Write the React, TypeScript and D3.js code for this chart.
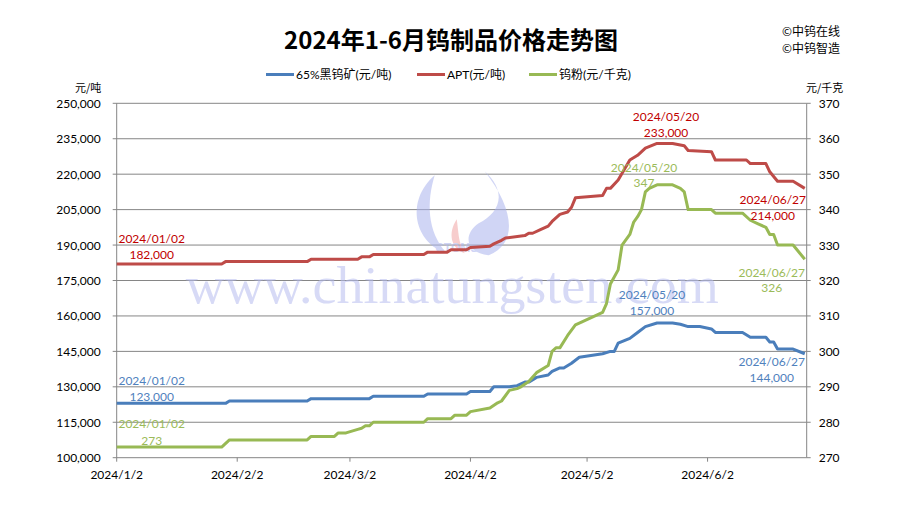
import React from 'react';
import * as d3 from 'd3';

// 65%黑钨矿 (元/吨)
const oreSeries: [string, number][] = [
  ['2024-01-02', 123000], ['2024-01-30', 123000], ['2024-01-31', 124000], ['2024-02-20', 124000],
  ['2024-02-21', 125000], ['2024-03-07', 125000], ['2024-03-08', 126000], ['2024-03-21', 126000],
  ['2024-03-22', 127000], ['2024-04-01', 127000], ['2024-04-02', 128000], ['2024-04-07', 128000],
  ['2024-04-08', 130000], ['2024-04-12', 130000], ['2024-04-14', 130500], ['2024-04-16', 132000],
  ['2024-04-17', 132000], ['2024-04-19', 134000], ['2024-04-22', 135000], ['2024-04-23', 136500],
  ['2024-04-25', 138000], ['2024-04-26', 138000], ['2024-04-28', 140000], ['2024-04-30', 142500],
  ['2024-05-06', 144000], ['2024-05-08', 145000], ['2024-05-09', 145000], ['2024-05-10', 148500],
  ['2024-05-13', 150500], ['2024-05-15', 153000], ['2024-05-17', 155500], ['2024-05-20', 157000],
  ['2024-05-24', 157000], ['2024-05-26', 156500], ['2024-05-28', 155500], ['2024-05-31', 155500],
  ['2024-06-03', 154500], ['2024-06-04', 153000], ['2024-06-11', 153000], ['2024-06-13', 151000],
  ['2024-06-17', 151000], ['2024-06-18', 149000], ['2024-06-19', 149000], ['2024-06-20', 146000],
  ['2024-06-24', 146000], ['2024-06-27', 144000],
];

// APT (元/吨)
const aptSeries: [string, number][] = [
  ['2024-01-02', 182000], ['2024-01-29', 182000], ['2024-01-30', 183000], ['2024-02-20', 183000],
  ['2024-02-21', 184000], ['2024-03-04', 184000], ['2024-03-05', 185000], ['2024-03-07', 185000],
  ['2024-03-08', 186000], ['2024-03-21', 186000], ['2024-03-22', 187000], ['2024-03-27', 187000],
  ['2024-03-28', 188000], ['2024-04-01', 188000], ['2024-04-02', 189000], ['2024-04-07', 189500],
  ['2024-04-08', 190500], ['2024-04-10', 192000], ['2024-04-11', 193000], ['2024-04-16', 194000],
  ['2024-04-17', 195000], ['2024-04-18', 195000], ['2024-04-20', 196500], ['2024-04-22', 198000],
  ['2024-04-23', 200000], ['2024-04-25', 203000], ['2024-04-27', 204000], ['2024-04-28', 206000],
  ['2024-04-29', 210000], ['2024-05-06', 211000], ['2024-05-07', 214000], ['2024-05-08', 214000],
  ['2024-05-10', 217500], ['2024-05-13', 226000], ['2024-05-15', 228000], ['2024-05-17', 231000],
  ['2024-05-20', 233000], ['2024-05-24', 233000], ['2024-05-27', 232000], ['2024-05-28', 230000],
  ['2024-06-03', 229500], ['2024-06-04', 226000], ['2024-06-12', 226000], ['2024-06-13', 224500],
  ['2024-06-17', 224500], ['2024-06-18', 221000], ['2024-06-20', 217000], ['2024-06-24', 217000],
  ['2024-06-27', 214000],
];

// 钨粉 (元/千克)
const powderSeries: [string, number][] = [
  ['2024-01-02', 273], ['2024-01-29', 273], ['2024-01-31', 275], ['2024-02-20', 275],
  ['2024-02-21', 276], ['2024-02-27', 276], ['2024-02-28', 277], ['2024-03-01', 277],
  ['2024-03-04', 278], ['2024-03-05', 278.3], ['2024-03-06', 279], ['2024-03-07', 279],
  ['2024-03-08', 280], ['2024-03-21', 280], ['2024-03-22', 281], ['2024-03-28', 281],
  ['2024-03-29', 282], ['2024-04-01', 282], ['2024-04-02', 283], ['2024-04-07', 284],
  ['2024-04-09', 285.5], ['2024-04-10', 286], ['2024-04-12', 289], ['2024-04-14', 289.5],
  ['2024-04-15', 290], ['2024-04-17', 291.5], ['2024-04-19', 294], ['2024-04-22', 296],
  ['2024-04-23', 300], ['2024-04-24', 301], ['2024-04-25', 301], ['2024-04-27', 304.5],
  ['2024-04-29', 307.5], ['2024-04-30', 308], ['2024-05-06', 311], ['2024-05-07', 313.5],
  ['2024-05-08', 319], ['2024-05-10', 323], ['2024-05-11', 330], ['2024-05-13', 333],
  ['2024-05-14', 336.5], ['2024-05-15', 338], ['2024-05-16', 340], ['2024-05-17', 345],
  ['2024-05-18', 346], ['2024-05-20', 347], ['2024-05-24', 347], ['2024-05-26', 346],
  ['2024-05-27', 345], ['2024-05-28', 340], ['2024-06-03', 340], ['2024-06-04', 339],
  ['2024-06-11', 339], ['2024-06-13', 337], ['2024-06-15', 336], ['2024-06-17', 335],
  ['2024-06-18', 333], ['2024-06-19', 333], ['2024-06-20', 330], ['2024-06-24', 330],
  ['2024-06-27', 326],
];

const xTickLabels = ['2024/1/2', '2024/2/2', '2024/3/2', '2024/4/2', '2024/5/2', '2024/6/2'];
const leftTicks = [100000, 115000, 130000, 145000, 160000, 175000, 190000, 205000, 220000, 235000, 250000];
const rightTicks = [270, 280, 290, 300, 310, 320, 330, 340, 350, 360, 370];

const legendNames = ['65%黑钨矿(元/吨)', 'APT(元/吨)', '钨粉(元/千克)'];
const annotatedDates = ['2024-01-02', '2024-05-20', '2024-06-27'];

const width = 900;
const height = 505;
const margin = { top: 103.3, right: 93.3, bottom: 47.3, left: 116.7 };
const innerW = width - margin.left - margin.right;
const innerH = height - margin.top - margin.bottom;

const parseDate = d3.timeParse('%Y-%m-%d');
const parseTick = d3.timeParse('%Y/%m/%d');
const fmtInt = d3.format(',');

const LATIN = "Lato, 'Noto Sans CJK SC', sans-serif";
const CJK = "'Noto Sans CJK SC', sans-serif";

export default function App() {
  const x = d3.scaleTime()
    .domain([parseDate('2024-01-02')!, d3.timeHour.offset(parseDate('2024-06-27')!, 12)])
    .range([0, innerW]);
  const yL = d3.scaleLinear().domain([100000, 250000]).range([innerH, 0]);
  const yR = d3.scaleLinear().domain([270, 370]).range([innerH, 0]);

  // offsets: [dx, dy of date line, dy of value line] for each annotated date
  const series = [
    { data: oreSeries, y: yL, color: '#4A7EBB', text: '#4F81BD', fmt: fmtInt,
      offsets: [[35, -18, -2.5], [-5, -24, -8.5], [-33, 12, 28]] },
    { data: aptSeries, y: yL, color: '#BE4B48', text: '#C00000', fmt: fmtInt,
      offsets: [[35, -20.5, -4.5], [9, -22, -6.5], [-32, 16, 32]] },
    { data: powderSeries, y: yR, color: '#98B954', text: '#9BBB59', fmt: d3.format('d'),
      offsets: [[35, -19, -2.5], [-13, -13, 2.5], [-33, 17.5, 33]] },
  ];

  const line = (s: typeof series[number]) =>
    d3.line<[string, number]>()
      .x(d => x(parseDate(d[0])!))
      .y(d => s.y(d[1]))(s.data) || '';

  const legendX = [266, 417, 529];

  return (
    <svg width={width} height={height} style={{ position: 'absolute', left: 0, top: 0, background: '#fff' }}>
      <text x={451} y={49} textAnchor="middle" fontFamily={CJK} fontWeight="bold" fontSize={24} fill="#000">
        2024年1-6月钨制品价格走势图
      </text>
      <text x={782} y={36} fontFamily={CJK} fontSize={12} fill="#000">©中钨在线</text>
      <text x={782} y={53} fontFamily={CJK} fontSize={12} fill="#000">©中钨智造</text>

      {series.map((s, i) => (
        <g key={i}>
          <line x1={legendX[i]} x2={legendX[i] + 28} y1={74.5} y2={74.5} stroke={s.color} strokeWidth={3} />
          <text x={legendX[i] + 30} y={79} fontFamily={LATIN} fontSize={12} fill="#000">{legendNames[i]}</text>
        </g>
      ))}

      <text x={75} y={92} fontFamily={CJK} fontSize={11} fill="#000">元/吨</text>
      <text x={806} y={92} fontFamily={CJK} fontSize={11} fill="#000">元/千克</text>

      <g transform={`translate(${margin.left},${margin.top})`}>
        {leftTicks.map(t => (
          <g key={t}>
            <line x1={-4} x2={innerW} y1={yL(t)} y2={yL(t)} stroke="#868686" strokeWidth={1} />
            <text x={-16} y={yL(t) + 4.5} textAnchor="end" fontFamily={LATIN} fontSize={12} fill="#000">
              {fmtInt(t)}
            </text>
          </g>
        ))}
        {rightTicks.map(t => (
          <g key={t}>
            <line x1={innerW} x2={innerW + 4} y1={yR(t)} y2={yR(t)} stroke="#868686" strokeWidth={1} />
            <text x={innerW + 12} y={yR(t) + 4.5} fontFamily={LATIN} fontSize={12} fill="#000">{t}</text>
          </g>
        ))}
        <line x1={0} x2={0} y1={0} y2={innerH} stroke="#868686" strokeWidth={1} />
        <line x1={innerW} x2={innerW} y1={0} y2={innerH} stroke="#868686" strokeWidth={1} />
        {xTickLabels.map(t => {
          const xp = x(parseTick(t)!);
          return (
            <g key={t}>
              <line x1={xp} x2={xp} y1={innerH} y2={innerH + 4} stroke="#868686" strokeWidth={1} />
              <text x={xp} y={innerH + 21} textAnchor="middle" fontFamily={LATIN} fontSize={12} fill="#000">{t}</text>
            </g>
          );
        })}

        {/* watermark */}
        <g opacity={0.55}>
          <path d="M318,72 C288,98 298,140 330,150 C310,128 310,98 318,72 Z" fill="#aab3ee" />
          <path d="M368,68 C392,90 382,110 362,120 C345,132 350,150 372,152 C402,140 397,105 368,68 Z" fill="#aab3ee" />
          <path d="M340,116 C331,130 334,145 348,150 C341,138 342,128 340,116 Z" fill="#f2a5a5" />
          <text x={340} y={149} textAnchor="middle" fontFamily="'Liberation Sans', sans-serif" fontWeight="bold"
            fontSize={12} fill="#aab3ee">CTOMS</text>
          <text x={69} y={200} fontFamily="'Liberation Serif', serif" fontSize={52} fill="#b7bdf0"
            textLength={533} lengthAdjust="spacingAndGlyphs">www.chinatungsten.com</text>
        </g>

        {series.map((s, i) => (
          <path key={i} d={line(s)} fill="none" stroke={s.color} strokeWidth={3}
            strokeLinejoin="round" strokeLinecap="butt" />
        ))}

        {series.map((s, i) => annotatedDates.map((ds, j) => {
          const pt = s.data.find(d => d[0] === ds)!;
          const [dx, dyDate, dyVal] = s.offsets[j];
          const px = x(parseDate(pt[0])!) + dx;
          const py = s.y(pt[1]);
          return (
            <g key={`${i}-${j}`} fontFamily={LATIN} fontSize={12} fill={s.text} textAnchor="middle">
              <text x={px} y={py + dyDate}>{ds.replace(/-/g, '/')}</text>
              <text x={px} y={py + dyVal}>{s.fmt(pt[1])}</text>
            </g>
          );
        }))}
      </g>
    </svg>
  );
}
